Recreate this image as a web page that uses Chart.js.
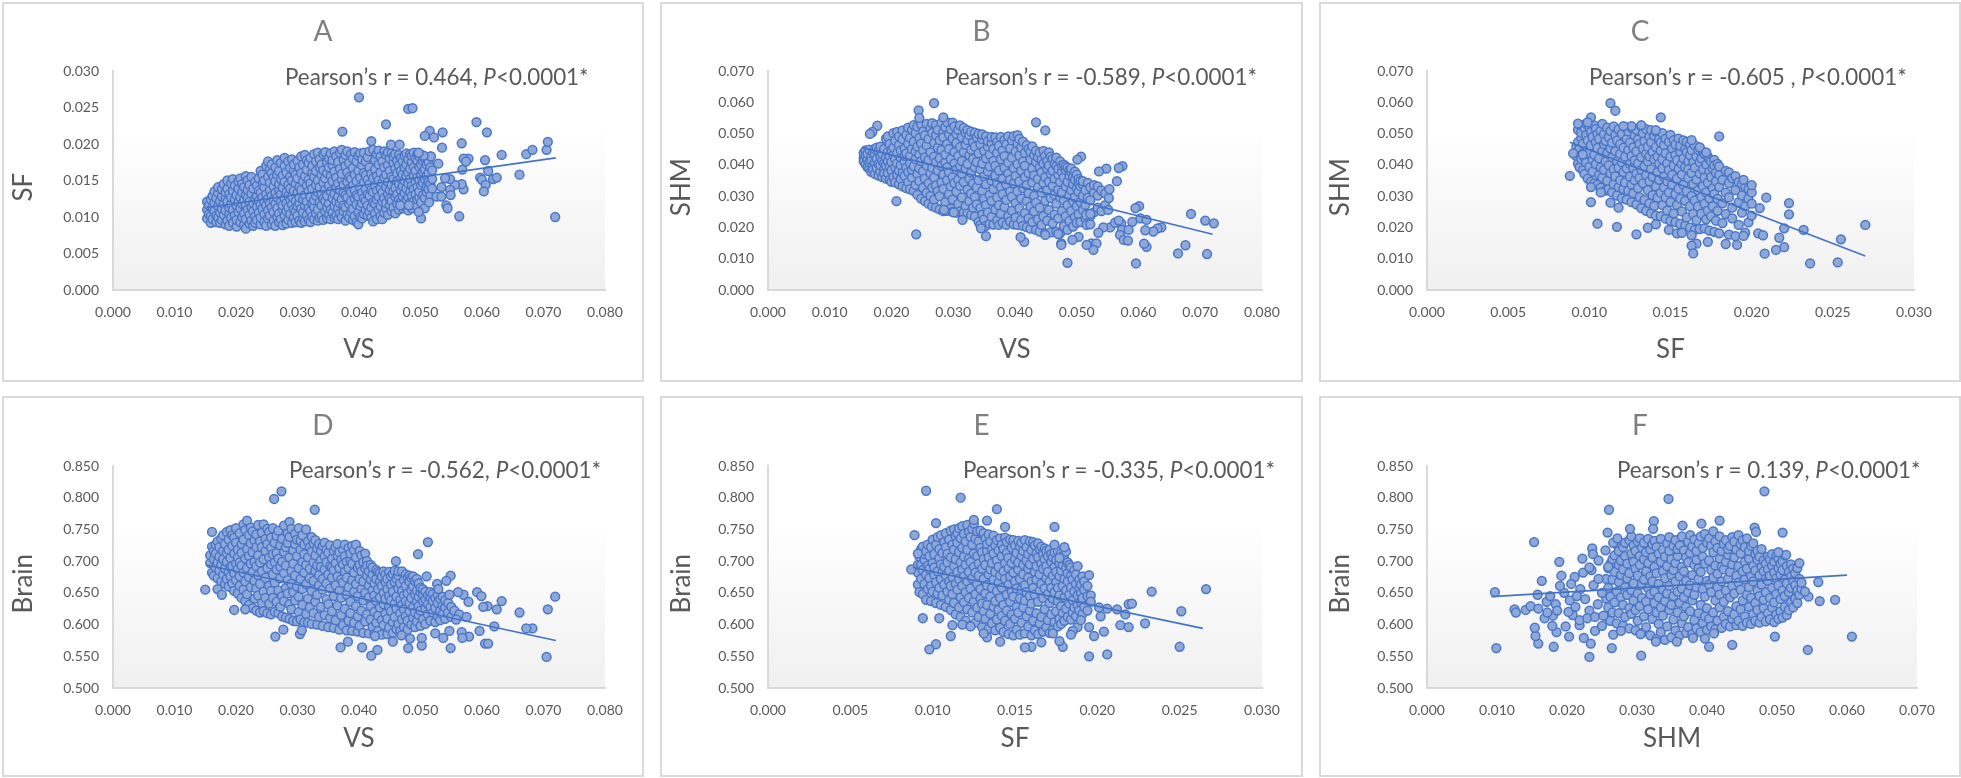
<!DOCTYPE html>
<html>
<head>
<meta charset="utf-8">
<title>Pearson correlations</title>
<script src="https://cdn.jsdelivr.net/npm/chart.js@4/dist/chart.umd.min.js"></script>
<style>
  html, body { margin: 0; background: #fff; }
  .panel { position: absolute; box-sizing: border-box; border: 2px solid #d9d9d9; background: #fff; filter: blur(0.4px); }
  .panel canvas { position: absolute; left: 0; top: 0; }
  .note { position: absolute; font: 22.4px Lato, sans-serif; color: #595959; white-space: nowrap; }
</style>
</head>
<body>
<script>
// values, x in 1e-4, y in 1e-4 (SF, SHM) or 1e-3 (Brain)
const trendA = [[152, 113], [720, 181]];
const trendB = [[152, 455], [720, 178]];
const trendC = [[88, 472], [270, 109]];
const trendD = [[152, 694], [720, 575]];
const trendE = [[88, 690], [264, 594]];
const trendF = [[92, 644], [600, 678]];

// each row is one x value followed by the y values read at that x
const pointsA = [
[153,98,110,121],[156,104,116],[159,92,101,124],[162,97,113,129],[165,108,119,135],[168,93,102,126],[171,99,115,133,141],[174,92,106,122],[177,96,111,128,138],[180,103,118,145],[183,90,109,126,134],[186,95,121,139,150],[189,88,104,113,131],[192,99,117,127,146],[195,92,110,136,152],[198,102,124,143],[201,87,96,115,130],[204,107,120,139,149],[207,93,112,127,153],[210,100,118,134,145],[213,89,105,123,141],[216,84,97,116,130,156],[219,110,126,137,150],[222,91,103,121,144],[225,95,113,132,155],[228,88,108,119,139],[231,92,101,125,148],[234,96,114,128,143],[237,106,122,136,153],[240,90,99,117,133,163],[243,111,127,146,158],[246,93,104,120,141,150],[249,88,116,131,170],[252,98,109,125,155,176],[255,102,119,137,147,165],[258,90,113,129,160,172],[261,95,107,123,142,154],[264,88,118,133,149,168],[267,100,112,127,158,178],[270,93,105,138,145,163],[273,97,121,131,152,174],[276,89,110,116,140,157],[279,102,126,148,170,181],[282,91,108,119,134,161],[285,96,113,129,144,176],[288,104,124,139,155,167],[291,92,117,128,150,179],[294,99,110,136,163,172],[297,93,107,122,146,158],[300,102,115,133,153,177],[303,95,119,127,141,168],[306,92,111,137,160,183],[309,98,106,124,149,172],[312,94,116,130,156,185],[315,103,121,143,165,178],[318,96,112,135,151,174],[321,93,108,127,146,181],[324,101,118,139,160,170],[327,97,114,123,155,186],[330,105,129,144,176,163],[333,95,110,134,150,188],[336,99,120,141,168,179],[339,102,116,131,158,172],[342,96,125,147,164,186],[345,108,122,137,153,189],[348,98,113,129,174,160],[351,103,118,143,168,181],[354,97,110,135,156,187],[357,106,126,149,171,178],[360,99,115,132,162,190],[363,102,121,140,154,183],[366,97,112,128,146,175],[369,105,119,137,166,188],[372,100,124,151,159,192],[375,108,116,133,144,178],[378,95,113,130,170,185],[381,103,127,148,161,190],[384,99,118,139,155,174],[387,107,122,134,152,186],[390,96,111,143,167,180],[393,101,125,136,158,189],[396,93,117,130,149,176],[399,90,106,128,163,184],[402,100,115,141,154,187],[405,98,119,133,171,179],[408,104,126,147,160,188],[411,110,122,138,157,176],[414,102,116,131,151,182],[417,107,129,145,168,190],[420,99,113,137,159,204],[423,94,120,134,153,192],[426,105,118,143,165,178],[429,97,124,136,156,186],[432,110,128,150,172,191],[435,101,115,139,161,183],[438,97,121,133,147,176],[441,106,126,154,168,190],[444,112,119,141,158,185],[447,103,131,148,171,188],[450,116,125,137,163,180],[453,108,122,144,155,187],[456,113,135,152,174,183],[459,105,128,140,166,186],[462,118,131,149,160,177],[465,110,124,145,171,185],[468,120,137,153,163,181],[471,112,128,142,158,176],[474,115,133,150,168,184],[477,123,139,156,172,187],[480,109,127,146,161,179],[483,119,134,152,166,186],[486,112,129,143,175,184],[489,121,138,157,168,188],[492,116,131,148,163,180],[495,124,141,154,176,186],[498,127,135,150,169,183],[501,120,144,158,172,98],[504,130,147,162,177,184],[507,112,126,152,165,180],[510,134,141,156,172],[513,138,148,160,175],[516,129,145,168,183],[519,139,152,164],
[400,264],[480,248],[487,249],[444,227],[373,217],[591,230],[608,216],[515,218],[507,211],[522,209],[536,216],[567,201],[535,195],[452,199],[466,199],[578,180],[570,180],[574,176],[632,185],[605,178],[672,186],[682,192],[705,192],[707,203],[568,165],[610,163],[661,158],[597,154],[600,151],[618,152],[624,154],[606,144],[603,135],[570,138],[567,145],[556,144],[548,152],[540,153],[534,141],[548,137],[549,130],[542,116],[544,112],[563,101],[719,100],[497,107],[467,116],[481,116],[526,128],[534,128],[514,120],[529,173],[517,183],[505,184],[497,188]
];
const pointsB = [
[155,422,438,411],[158,402,446,429],[161,393,417,436],[164,388,449,407],[167,378,425,412],[170,398,440,384],[173,371,432,451,408],[176,390,419,455],[179,366,403,444],[182,379,427,458,398],[185,361,413,436],[188,386,451,405,372],[191,356,423,484,398],[194,374,441,412,491],[197,352,395,467,428],[200,382,409,447,346],[203,361,432,501,455],[206,344,392,418,477],[209,369,438,405,505],[212,338,381,463,491],[215,355,422,399,446],[218,331,374,482,510],[221,365,411,452,429],[224,326,391,437,496],[227,345,377,468,519],[230,322,404,428,486],[233,359,384,450,512],[236,317,396,474,527],[239,336,418,443,501],[242,304,371,459,522],[245,348,389,433,486],[248,292,412,468,529],[251,327,379,447,507],[254,284,356,424,494],[257,310,398,462,531],[260,276,341,415,483],[263,301,373,440,518],[266,268,327,391,502,533],[269,289,359,426,471],[272,263,334,408,494,527],[275,316,382,455,512],[278,258,300,421,479],[281,344,397,448,534],[284,252,323,369,505,488],[287,281,408,433,521],[290,253,351,392,467,536],[293,306,376,451,498],[296,260,331,419,514],[299,250,289,361,484,535],[302,342,405,441,523],[305,247,314,385,470,499],[308,275,353,428,512],[311,251,333,396,457,526],[314,296,372,412,488],[317,248,345,441,518],[320,268,388,464,502],[323,245,321,403,479,511],[326,284,356,431,495],[329,240,308,375,448,506],[332,263,341,419,472],[335,235,297,392,458,503],[338,274,328,409,488],[341,218,351,437,499],[344,207,262,385,466],[347,241,316,404,482,497],[350,226,292,363,445],[353,205,271,338,421,491],[356,248,379,458,476],[359,212,304,395,433],[362,234,285,349,470,489],[365,209,323,413,451],[368,257,366,397,488],[371,222,296,342,438,473],[374,208,271,382,461],[377,244,329,418,489],[380,215,306,355,446],[383,266,391,428,479],[386,208,288,337,466],[389,236,372,407,491],[392,219,314,352,453],[395,254,298,423,478],[398,210,341,389,492],[401,231,278,365,442],[404,208,316,402,469,495],[407,261,347,430,483],[410,224,293,381,455],[413,205,326,411,474],[416,246,361,397,438],[419,201,284,335,463],[422,229,309,374,451],[425,196,267,418,441],[428,217,344,388,459],[431,251,301,366,431],[434,192,279,409,445],[437,226,328,355,424],[440,187,263,392,439],[443,208,311,376,417],[446,236,342,404,445],[449,182,285,361,429],[452,222,318,388,412],[455,256,346,398,440],[458,184,294,371,426],[461,213,333,382,418],[464,241,304,356,403],[467,186,276,397,423],[470,229,321,369,387],[473,181,296,345,411],[476,253,312,378,398],[479,204,287,359,401],[482,236,331,383,396],[485,192,271,346,391],[488,221,303,366,383],[491,252,319,377,389],[494,203,284,338,361],[497,233,297,352,378],[500,215,268,326,369],[503,243,314,341,355],[506,217,281,332,349],[510,256,301,338,348],[514,229,272,319],[518,244,295,342],[522,236,287,328],[528,249,312,335],[534,263,302,331],[540,252,318],[546,271,309],
[269,597],[244,574],[245,550],[284,552],[177,525],[169,505],[165,499],[434,536],[449,510],[208,284],[240,178],[601,268],[685,243],[708,222],[722,213],[485,87],[596,85],[711,115],[676,143],[664,117],[613,138],[609,148],[574,396],[568,390],[548,388],[536,379],[565,348],[507,426],[501,417],[552,294],[553,322],[551,256],[603,229],[613,224],[637,200],[631,197],[624,187],[611,191],[572,213],[573,192],[584,192],[570,176],[576,160],[583,158],[554,200],[543,200],[535,183],[524,149],[532,149],[527,128],[516,144],[475,149],[475,144],[503,170],[493,160],[470,179],[449,176],[415,154],[409,169],[353,172],[345,197],[315,224],[301,248],[285,256],[515,240],[522,243],[516,208],[522,210],[562,215],[568,222],[590,218],[595,262]
];
const pointsC = [
[92,428,441,459],[93,404,473,512],[94,392,452,528],[95,418,486,503],[96,383,437,468],[97,371,424,517],[98,407,495,532],[99,356,446,478],[100,394,521,438],[101,346,462,505],[102,378,416,489],[103,341,433,526],[104,402,472,515],[105,336,454,498],[106,368,421,483],[107,327,392,509],[108,359,443,531],[109,384,466,498],[110,318,411,476],[111,349,437,519],[112,322,399,489],[113,373,452,508],[114,312,424,471],[115,338,386,523],[116,363,444,495],[117,302,412,478],[118,329,391,513],[119,351,435,466],[120,293,408,499],[121,323,377,455],[122,344,426,521],[123,289,389,483],[124,318,448,507],[125,362,403,471],[126,281,337,428,518],[127,309,391,456],[128,351,414,494],[129,274,372,443,512],[130,326,405,481],[131,297,358,467],[132,262,384,425,523],[133,341,452,501],[134,288,396,476],[135,253,367,435,514],[136,319,411,458],[137,277,348,489,427],[138,245,386,472,511],[139,303,362,441],[140,269,418,493],[141,238,331,457,507],[142,295,376,426],[143,352,404,482],[144,236,311,445,471],[145,271,389,501,418],[146,328,362,463],[147,228,296,437,484],[148,254,347,405],[149,312,383,474],[150,221,281,426,496],[151,337,368,452],[152,245,398,479],[153,217,306,431,465],[154,272,356,415],[155,324,387,484],[156,211,292,442,461],[157,251,369,403],[158,336,421,478],[159,206,285,392,450],[160,232,316,441,473],[161,358,411,386],[162,199,268,431,465],[163,301,374,447],[164,243,339,408],[165,192,286,391,462],[166,223,353,427],[167,267,318,448],[168,195,372,408,455],[169,244,297,421],[170,331,386,441],[171,197,276,359,434],[172,226,312,401],[173,254,344,426],[174,190,293,378,418],[175,236,361,411],[176,268,325,389],[177,186,306,416,398],[178,222,347,374],[179,253,291,403],[180,181,329,368,395],[182,214,277,352],[184,243,311,381],[186,177,296,342,376],[188,229,263,358],[190,172,319,364],[192,208,281,345],[194,247,302,338],[196,183,268,329],[198,216,292,322],[200,238,276,312],
[113,597],[116,573],[144,552],[180,491],[88,365],[90,437],[96,433],[101,329],[101,281],[105,212],[117,202],[129,178],[113,279],[118,263],[107,312],[270,208],[255,162],[253,88],[236,85],[232,192],[220,197],[217,167],[220,137],[215,128],[208,116],[223,278],[223,242],[209,295],[205,262],[200,335],[195,352],[204,181],[207,175],[195,173],[191,144],[184,147],[173,154],[166,148],[163,142],[164,117],[163,175],[149,192],[154,181],[157,183],[136,199],[141,210],[163,479],[168,456],[172,440],[132,527],[126,524],[121,524],[101,552],[93,532],[99,536],[141,511]
];
const pointsD = [
[158,697,709],[161,682,723],[164,677,703,716],[167,690,712,726],[170,673,698,731],[173,685,707,722],[176,668,694,736],[179,679,716,703,741],[182,664,688,727],[185,672,699,746,713],[188,660,683,734,718],[191,676,705,749,691],[194,665,724,692,741],[197,653,681,712,737],[200,670,696,729,752],[203,649,687,718,706],[206,661,676,744,698],[209,642,693,727,713],[212,655,682,758,734],[215,637,668,704,749],[218,648,719,689,764],[221,631,675,708,741],[224,659,696,728,753],[227,626,683,714,747],[230,641,669,699,733],[233,622,657,692,742,722],[236,646,678,709,757],[239,619,664,698,731],[242,634,684,722,745],[245,621,652,703,758],[248,642,674,716,735],[251,618,689,727,751],[254,633,661,706,746],[257,616,653,695,721,737],[260,642,679,711,752],[263,620,666,698,729],[266,636,687,740,713],[269,618,654,704,748],[272,628,673,725,691],[275,613,645,699,735],[278,637,681,715,756],[281,611,658,693,722],[284,649,670,729,744],[287,609,632,706,738,762],[290,624,664,685,751],[293,606,651,696,717],[296,638,677,727,743],[299,605,660,708,734],[302,620,644,689,752],[305,608,672,718,733],[308,631,656,699,741],[311,604,682,711,726],[314,617,664,694,750],[317,603,641,706,731],[320,627,673,688,722],[323,601,653,715,738],[326,618,669,698,728],[329,636,685,709,733],[332,600,647,693,720],[335,612,662,678,727],[338,628,701,716,691],[341,598,655,672,724],[344,615,687,708,729],[347,640,665,698,718],[350,596,632,679,713],[353,610,657,692,725],[356,621,674,704,690],[359,595,645,686,716],[362,607,662,697,722],[365,630,676,709,727],[368,592,653,689,714],[371,615,642,671,702],[374,599,666,695,718],[377,625,683,708,726],[380,591,647,674,699],[383,606,659,689,721],[386,618,636,702,712],[389,590,670,696,724],[392,603,652,682,717],[395,629,664,706,726],[398,589,613,645,690],[401,598,672,694,716],[404,622,656,684,709],[407,587,638,668,698],[410,605,650,689,712],[413,616,677,700,693],[416,586,643,662,684],[419,608,629,671,694],[422,596,654,679,690],[425,585,620,646,665],[428,603,637,672,686],[431,590,614,656,683],[434,627,643,668,681],[437,584,607,661,676],[440,599,632,650,684],[443,617,641,667,679],[446,585,609,656,672],[449,595,628,645,683],[452,621,638,663,676],[455,587,604,652,680],[458,612,633,667,685],[461,593,625,644,672],[464,601,657,677,684],[467,590,618,639,665],[470,608,631,653,684],[473,596,624,646,670],[476,613,637,661,679],[479,592,606,649,674],[482,621,634,668,677],[485,600,642,655,674],[488,611,627,660,676],[491,596,619,648,669],[494,605,636,653,672],[497,615,629,644,665],[500,598,622,651,658],[504,608,637,647,656],[508,601,625,640,652],[512,616,632,646],[516,606,628,643,651],[520,619,637,648],[524,604,626,642],[528,613,634,647],[532,607,622,640],[536,616,630,644],[540,609,627,638],[545,619,634],[550,612,628],
[274,810],[262,798],[328,781],[512,730],[496,711],[460,700],[161,746],[150,655],[170,656],[177,647],[197,623],[215,624],[264,581],[277,592],[304,585],[307,591],[370,564],[382,573],[405,564],[420,551],[430,560],[480,563],[502,567],[502,579],[549,563],[605,570],[610,570],[705,549],[719,644],[707,624],[682,594],[672,594],[661,619],[632,637],[624,624],[620,597],[596,590],[592,651],[599,645],[578,636],[570,647],[561,651],[609,629],[602,628],[549,677],[542,669],[527,664],[529,656],[510,676],[547,647],[579,581],[567,588],[568,579],[547,590],[537,579],[524,586],[483,578],[455,573],[469,583],[426,582],[555,622],[563,616],[575,612],[558,608]
];
const pointsE = [
[91,663,682,694],[92,651,707],[93,672,694,719],[94,648,686,723],[95,664,702,711],[96,639,679,716],[97,656,693,726],[98,673,708,688],[99,637,661,722],[100,652,697,734],[101,678,711,690],[102,634,667,726],[103,649,684,738],[104,658,704,719],[105,631,672,695,741],[106,646,713,683],[107,663,691,730],[108,628,677,722,744],[109,652,698,712],[110,639,685,734,668],[111,623,661,706,748],[112,648,675,726],[113,634,692,718,750],[114,616,664,703,739],[115,655,683,729,744],[116,627,672,714,752],[117,612,643,698,736],[118,661,687,721,755],[119,635,676,707,743],[120,606,651,694,731],[121,624,668,718,757],[122,642,683,704,746],[123,598,657,699,738],[124,619,673,726,751],[125,636,691,712,759],[126,603,648,682,735],[127,627,664,708,747],[128,612,677,696,731],[129,641,656,721,748],[130,596,633,688,714],[131,621,672,703,744],[132,609,649,694,736],[133,631,662,716,727],[134,593,679,706,742],[135,617,644,687,731],[136,602,658,697,719],[137,628,671,712,740],[138,591,637,683,725],[139,608,653,701,733],[140,623,666,691,717],[141,595,642,677,736],[142,614,658,708,726],[143,588,631,684,719],[144,606,672,697,737],[145,622,647,713,730],[146,585,663,689,705],[147,601,636,676,734],[148,616,652,721,697],[149,583,644,682,733],[150,609,668,703,725],[151,592,628,657,713],[152,619,687,698,732],[153,584,641,672,723],[154,603,655,708,729],[155,627,679,694,716],[156,586,638,662,733],[157,613,651,701,722],[158,597,674,688,711],[159,622,645,695,731],[160,583,633,668,717],[161,606,658,704,730],[162,591,647,683,725],[163,618,671,692,712],[164,585,636,706,728],[165,602,653,679,719],[166,612,664,696,723],[167,589,642,688,711],[168,624,657,703,720],[169,596,673,692,716],[170,607,648,683,708],[171,587,634,668,718],[172,616,658,699,711],[173,592,641,677,706],[174,604,651,691,714],[175,621,667,683,702],[176,597,637,658,716],[177,609,646,676,697],[178,601,629,685,712],[179,618,661,694,708],[180,606,643,672,703],[181,625,654,689,715],[182,612,668,681,698],[183,633,647,694],[184,608,659,677,690],[185,619,638,671],[186,627,652,686],[187,613,664,679],[188,631,646,692],[189,622,657,671],[190,636,649,663],[191,617,642,676],[192,628,655,668],[194,622,645,661],
[96,811],[117,800],[139,782],[174,754],[144,754],[102,760],[89,741],[133,764],[125,765],[266,656],[233,652],[251,621],[250,565],[229,602],[219,632],[217,616],[212,624],[206,625],[201,627],[202,613],[214,599],[219,596],[204,589],[198,582],[195,596],[206,553],[195,550],[188,596],[185,590],[184,584],[179,565],[177,574],[173,586],[166,572],[160,565],[156,564],[141,573],[133,580],[131,586],[111,582],[102,569],[98,561],[104,610],[94,610],[112,599],[118,600],[123,597],[195,678],[196,646],[87,687],[91,712],[180,722],[177,705],[174,726],[190,607],[196,636],[221,633]
];
const pointsF = [
[256,613,641,672],[259,627,658,689],[262,606,644,696],[265,619,671,703],[268,635,683,709],[271,602,652,726],[274,618,667,694,716],[277,643,678,701],[280,598,631,687,722],[283,612,659,708,729],[286,647,673,696],[289,594,626,681,733],[292,617,654,712,739],[295,638,665,699,725],[298,591,623,688,716],[301,606,649,677,731],[304,629,694,708,736],[307,587,642,663,721],[310,613,671,703,729],[313,596,636,684,714],[316,624,657,697,735],[319,583,648,676,718],[322,609,668,706,727],[325,634,652,691,732],[328,578,619,681,722],[331,601,643,664,712],[334,588,627,699,735],[337,614,655,684,718],[340,576,637,673,707],[343,597,649,692,728],[346,623,661,716,738],[349,580,631,678,703],[352,608,645,686,724],[355,591,668,697,733],[358,619,652,708,719],[361,583,634,676,725],[364,602,657,691,739],[367,613,643,684,717],[370,587,628,669,706],[373,596,651,698,731],[376,621,662,713,741],[379,585,638,678,723],[382,607,647,694,734],[385,594,659,702,716],[388,618,672,688,728],[391,588,631,683,739],[394,603,656,707,721],[397,613,644,696,743],[400,592,626,669,729],[403,609,663,701,736],[406,597,651,686,724],[409,619,674,714,747],[412,593,638,693,731],[415,606,659,680,721],[418,627,647,704,739],[421,595,668,691,716],[424,612,636,687,727],[427,601,654,699,733],[430,621,672,710,719],[433,597,643,683,724],[436,609,661,695,738],[439,616,649,706,731],[442,599,629,677,718],[445,606,666,692,741],[448,624,655,712,727],[451,598,638,684,733],[454,613,671,699,722],[457,603,647,688,736],[460,628,659,704,716],[463,601,642,676,724],[466,617,668,693,728],[469,606,634,685,711],[472,623,654,702,716],[475,603,645,678,707],[478,612,663,691,719],[481,626,639,684,701],[484,605,651,672,696],[487,618,669,687,707],[490,608,642,677,703],[493,627,658,693,711],[496,604,635,682,699],[499,616,648,673,708],[502,609,662,689,704],[505,621,640,679,696],[508,611,654,686,700],[511,628,645,671,709],[514,615,665,692],[517,623,651,683],[520,635,658,676,695],[523,627,669,688],[526,641,662,681],[529,634,654,689],[532,647,672],[535,656,666],
[482,810],[345,798],[260,781],[153,730],[97,651],[99,563],[232,549],[181,565],[159,570],[155,582],[154,595],[180,614],[185,588],[179,598],[168,610],[172,619],[125,624],[127,619],[141,623],[148,629],[159,625],[171,636],[158,647],[164,669],[189,699],[222,704],[192,677],[211,675],[223,682],[258,745],[290,751],[324,763],[323,751],[365,756],[392,759],[418,764],[468,753],[470,746],[508,745],[264,563],[306,551],[403,565],[436,568],[544,560],[607,581],[497,581],[380,579],[397,578],[410,586],[357,573],[327,573],[583,639],[561,637],[559,667],[545,644],[540,652],[532,697],[513,710],[502,714],[203,581],[224,579],[234,570],[240,590],[250,598],[266,584],[277,590],[305,585],[198,597],[218,599],[218,607],[208,615],[202,620],[236,720],[237,711],[245,701],[255,717],[266,729],[272,736],[259,691],[235,686],[196,650],[204,638],[212,628],[219,656],[226,640],[232,622],[238,662],[244,632],[250,650],[176,645],[184,632],[190,661],[206,664],[214,645],[229,610],[240,612],[186,622],[252,614],[245,672],[232,690]
];

const panels = [
  { id: "A", xName: "VS", yName: "SF", xMax: 0.08, xStep: 0.01, yMin: 0, yMax: 0.03, yStep: 0.005, yUnit: 1e-4, points: pointsA, trend: trendA, note: "0.464,", noteX: 285, noteY: 63, box: [2, 2, 642, 380], plot: [113, 71, 605, 290], xPad: 15, yPad: 23 },
  { id: "B", xName: "VS", yName: "SHM", xMax: 0.08, xStep: 0.01, yMin: 0, yMax: 0.07, yStep: 0.01, yUnit: 1e-4, points: pointsB, trend: trendB, note: "-0.589,", noteX: 945, noteY: 63, box: [660, 2, 643, 380], plot: [768, 71, 1262, 290], xPad: 15, yPad: 23 },
  { id: "C", xName: "SF", yName: "SHM", xMax: 0.03, xStep: 0.005, yMin: 0, yMax: 0.07, yStep: 0.01, yUnit: 1e-4, points: pointsC, trend: trendC, note: "-0.605 ,", noteX: 1589, noteY: 63, box: [1319, 2, 642, 380], plot: [1427, 71, 1914, 290], xPad: 15, yPad: 23 },
  { id: "D", xName: "VS", yName: "Brain", xMax: 0.08, xStep: 0.01, yMin: 0.5, yMax: 0.85, yStep: 0.05, yUnit: 1e-3, points: pointsD, trend: trendD, note: "-0.562,", noteX: 289, noteY: 456, box: [2, 396, 642, 381], plot: [113, 466, 605, 688], xPad: 21, yPad: 28 },
  { id: "E", xName: "SF", yName: "Brain", xMax: 0.03, xStep: 0.005, yMin: 0.5, yMax: 0.85, yStep: 0.05, yUnit: 1e-3, points: pointsE, trend: trendE, note: "-0.335,", noteX: 963, noteY: 456, box: [660, 396, 643, 381], plot: [768, 466, 1262, 688], xPad: 21, yPad: 27 },
  { id: "F", xName: "SHM", yName: "Brain", xMax: 0.07, xStep: 0.01, yMin: 0.5, yMax: 0.85, yStep: 0.05, yUnit: 1e-3, points: pointsF, trend: trendF, note: "0.139,", noteX: 1617, noteY: 456, box: [1319, 396, 642, 381], plot: [1427, 466, 1917, 688], xPad: 21, yPad: 28 }
];

// plot area background fades from white to light grey
const plotBackground = {
  id: "plotBackground",
  beforeDraw(chart) {
    const a = chart.chartArea, g = chart.ctx.createLinearGradient(0, a.top, 0, a.bottom);
    g.addColorStop(0, "#ffffff");
    g.addColorStop(0.25, "#ffffff");
    g.addColorStop(1, "#f0f0f0");
    chart.ctx.fillStyle = g;
    chart.ctx.fillRect(a.left, a.top, a.right - a.left, a.bottom - a.top);
  }
};

const font = "Lato, sans-serif";
const tick3 = v => v.toFixed(3);

for (const p of panels) {
  const div = document.createElement("div");
  div.className = "panel";
  div.style.cssText = `left:${p.box[0]}px;top:${p.box[1]}px;width:${p.box[2]}px;height:${p.box[3]}px`;
  const canvas = document.createElement("canvas");
  const w = p.box[2] - 4, h = p.box[3] - 4;
  canvas.width = w;
  canvas.height = h;
  div.appendChild(canvas);
  document.body.appendChild(div);

  const note = document.createElement("div");
  note.className = "note";
  note.style.left = (p.noteX - p.box[0] - 2) + "px";
  note.style.top = (p.noteY - p.box[1] - 2) + "px";
  note.innerHTML = `Pearson’s r = ${p.note} <i>P</i>&lt;0.0001*`;
  div.appendChild(note);

  const left = p.plot[0] - p.box[0] - 2, top = p.plot[1] - p.box[1] - 2;
  const right = p.box[0] + 2 + w - p.plot[2], bottom = p.box[1] + 2 + h - p.plot[3];
  const toXY = ([x, y]) => ({ x: x * 1e-4, y: y * p.yUnit });
  const cloud = p.points.flatMap(([x, ...ys]) => ys.map(y => toXY([x, y])));

  new Chart(canvas, {
    type: "scatter",
    data: {
      datasets: [
        { data: p.trend.map(toXY), showLine: true, borderColor: "#4472c4", borderWidth: 1.6, pointRadius: 0 },
        { data: cloud, backgroundColor: "#8fa8da", borderColor: "#4a76c6", borderWidth: 1.5, pointRadius: 4.4 }
      ]
    },
    plugins: [plotBackground],
    options: {
      responsive: false,
      animation: false,
      devicePixelRatio: 1,
      layout: { padding: { top, right } },
      plugins: {
        legend: { display: false },
        tooltip: { enabled: false },
        title: { display: false }
      },
      scales: {
        x: {
          min: 0, max: p.xMax,
          grid: { display: false },
          border: { color: "#d9d9d9", width: 2 },
          ticks: { stepSize: p.xStep, callback: tick3, color: "#595959", font: { family: font, size: 14 }, maxRotation: 0, autoSkip: false, padding: 6 },
          title: { display: true, text: p.xName, color: "#595959", font: { family: font, size: 26 }, padding: { top: 6, bottom: p.xPad } },
          afterFit(s) { s.height = bottom; }
        },
        y: {
          min: p.yMin, max: p.yMax,
          grid: { display: false },
          border: { color: "#d9d9d9", width: 2 },
          ticks: { stepSize: p.yStep, callback: tick3, color: "#595959", font: { family: font, size: 14 }, autoSkip: false, padding: 6 },
          // trailing spaces nudge the label down to sit where it does in the original
          title: { display: true, text: p.yName + "  ", color: "#595959", font: { family: font, size: 26 }, padding: { bottom: p.yPad } },
          afterFit(s) { s.width = left; }
        }
      }
    }
  });

  const heading = document.createElement("div");
  heading.className = "note";
  heading.style.cssText = `left:0;width:${w}px;text-align:center;top:9px;font-size:28px;color:#7f7f7f`;
  heading.textContent = p.id;
  div.appendChild(heading);
}
</script>
</body>
</html>
